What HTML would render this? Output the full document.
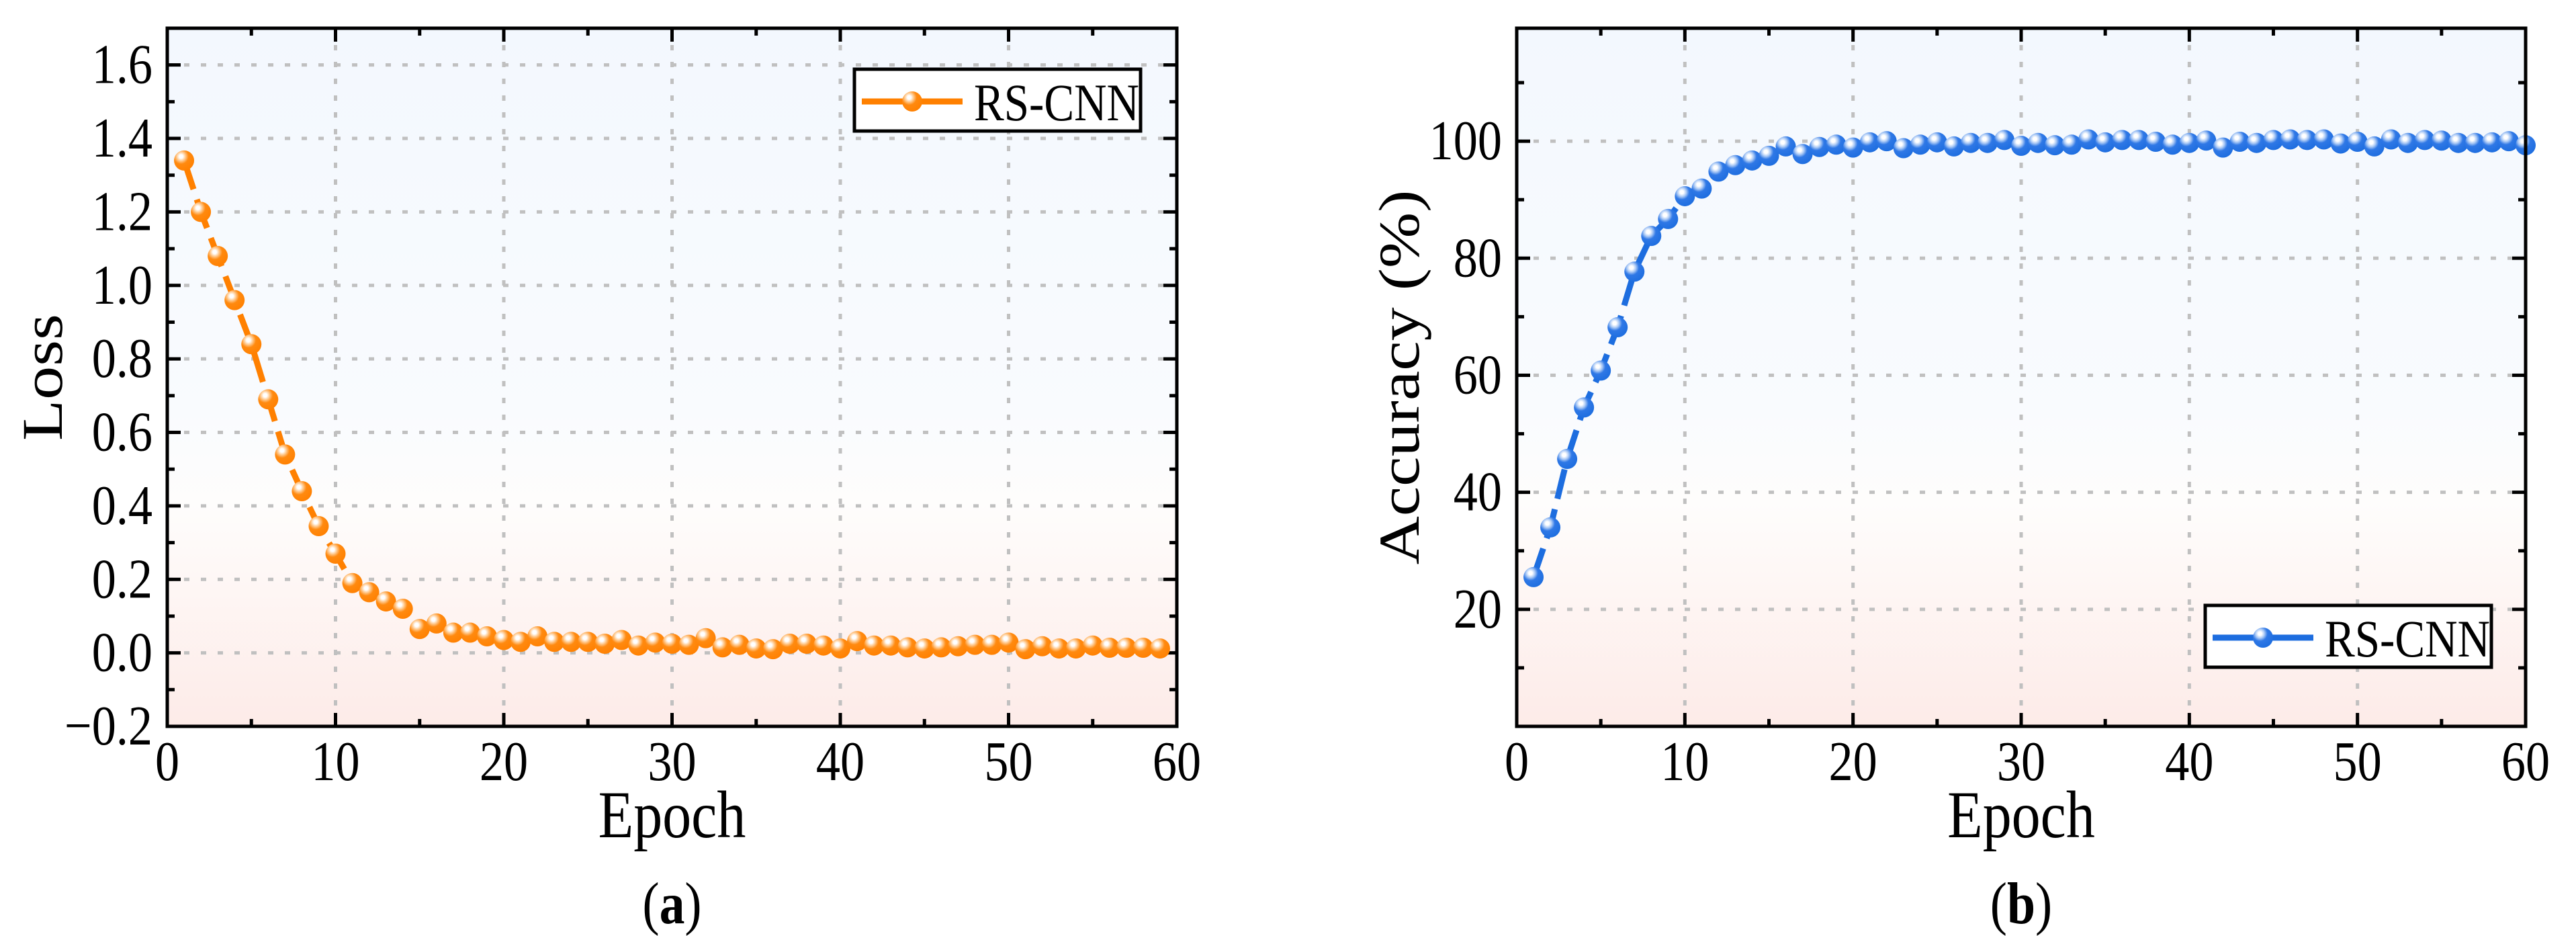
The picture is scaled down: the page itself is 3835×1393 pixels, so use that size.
<!DOCTYPE html>
<html><head><meta charset="utf-8">
<style>
html,body{margin:0;padding:0;background:#fff;}
svg{display:block;font-family:"Liberation Serif",serif;}
</style></head>
<body>
<svg id="fig" width="3835" height="1393" viewBox="0 0 3835 1393" xmlns="http://www.w3.org/2000/svg">
<defs>
<linearGradient id="bg" x1="0" y1="0" x2="0" y2="1">
<stop offset="0" stop-color="#f3f8fe"/>
<stop offset="0.55" stop-color="#f9fbfe"/>
<stop offset="0.68" stop-color="#fefdfc"/>
<stop offset="1" stop-color="#fdebe8"/>
</linearGradient>
<radialGradient id="mo" cx="0.35" cy="0.3" r="0.75">
<stop offset="0" stop-color="#ffffff"/>
<stop offset="0.12" stop-color="#ffffff"/>
<stop offset="0.3" stop-color="#ffc78a"/>
<stop offset="0.5" stop-color="#ff8a10"/>
<stop offset="1" stop-color="#ff8000"/>
</radialGradient>
<radialGradient id="mb" cx="0.35" cy="0.3" r="0.75">
<stop offset="0" stop-color="#ffffff"/>
<stop offset="0.12" stop-color="#ffffff"/>
<stop offset="0.3" stop-color="#a9c8f5"/>
<stop offset="0.5" stop-color="#2f78e6"/>
<stop offset="1" stop-color="#1d6ddf"/>
</radialGradient>
</defs>
<g id="chartA"></g>
<g id="chartB"></g>
</svg>
<script>
const lossEpochs = [];
for (let i = 1; i <= 59; i++) lossEpochs.push(i);
const lossValues = [1.34,1.20,1.08,0.96,0.84,0.69,0.54,0.44,0.345,0.27,0.19,0.165,0.14,0.12,0.065,0.08,0.055,0.055,0.045,0.035,0.03,0.045,0.03,0.03,0.03,0.025,0.035,0.02,0.028,0.025,0.022,0.04,0.015,0.022,0.012,0.01,0.025,0.025,0.02,0.012,0.032,0.02,0.02,0.015,0.012,0.015,0.018,0.022,0.022,0.028,0.01,0.018,0.012,0.012,0.02,0.014,0.014,0.014,0.012];
const lossYTicks = [-0.2,0.0,0.2,0.4,0.6,0.8,1.0,1.2,1.4,1.6];
const lossYLabels = ["\u22120.2","0.0","0.2","0.4","0.6","0.8","1.0","1.2","1.4","1.6"];
const accEpochs = [];
for (let i = 1; i <= 60; i++) accEpochs.push(i);
const accValues = [25.5,34,45.7,54.5,60.8,68.2,77.7,83.8,86.7,90.6,91.9,94.8,95.9,96.7,97.5,99.1,97.8,99.0,99.4,98.9,99.8,100,98.8,99.4,99.8,99.1,99.7,99.7,100.2,99.2,99.7,99.3,99.4,100.3,99.8,100.2,100.2,99.9,99.4,99.7,100.1,98.9,99.9,99.7,100.2,100.3,100.2,100.3,99.6,99.9,99.1,100.3,99.7,100.2,100.1,99.7,99.7,99.8,100,99.3];
const accYTicks = [20,40,60,80,100];
const xTicks = [0,10,20,30,40,50,60];

const NS = "http://www.w3.org/2000/svg";
const SX = 0.86;
function mk(parent, tag, attrs, text) {
  const e = document.createElementNS(NS, tag);
  for (const k in attrs) e.setAttribute(k, attrs[k]);
  if (text !== undefined) e.textContent = text;
  parent.appendChild(e);
  return e;
}
function txt(parent, x, y, size, anchor, s, extra) {
  const a = {x:0,y:0,'font-size':size,'text-anchor':anchor,fill:'#000',transform:'translate('+x+','+y+') '+(extra||'')+' scale('+SX+',1)'};
  return mk(parent,'text',a,s);
}

function drawChart(g, o) {
  const L=o.L, R=o.R, T=42, B=1081;
  const xs = v => L + (v - 0) / 60 * (R - L);
  const ys = v => B - (v - o.ymin) / (o.ymax - o.ymin) * (B - T);
  const bg = mk(g,'rect',{x:L,y:T,width:R-L,height:B-T,fill:'url(#bg)'});
  
  
  for (const t of xTicks.slice(1,-1)) {
    const l = mk(g,'line',{x1:xs(t),x2:xs(t),y1:T,y2:B,stroke:'#c0c0c0','stroke-width':5,'stroke-dasharray':'8 17'});
    
    
  }
  for (const t of o.yTicks) {
    const l = mk(g,'line',{x1:L,x2:R,y1:ys(t),y2:ys(t),stroke:'#c0c0c0','stroke-width':5,'stroke-dasharray':'8 17'});
    
    
  }
  const tk = mk(g,'g',{stroke:'#000','stroke-width':5});
  
  
  for (let v = 0; v <= 60; v += 5) {
    const len = v % 10 === 0 ? 20 : 11;
    mk(tk,'line',{x1:xs(v),x2:xs(v),y1:B,y2:B-len});
    mk(tk,'line',{x1:xs(v),x2:xs(v),y1:T,y2:T+len});
  }
  for (const v of o.minor) {
    const isMajor = o.yTicks.some(t => Math.abs(t - v) < 1e-6);
    const len = isMajor ? 20 : 11;
    mk(tk,'line',{x1:L,x2:L+len,y1:ys(v),y2:ys(v)});
    mk(tk,'line',{x1:R,x2:R-len,y1:ys(v),y2:ys(v)});
  }
  for (const t of xTicks) {
    const tx = txt(g, xs(t), 1161, 84, 'middle', String(t));
    
    
  }
  o.yTicks.forEach((t,i) => {
    const tx = txt(g, L-22, ys(t)+27, 84, 'end', o.yLabels[i]);
    
    
  });
  let d = '';
  o.xv.forEach((x,i) => { d += (i ? 'L' : 'M') + xs(x).toFixed(1) + ',' + ys(o.yv[i]).toFixed(1); });
  const clipId = 'clip' + o.id;
  const cp = mk(g,'clipPath',{id:clipId});
  mk(cp,'rect',{x:L,y:T,width:R-L+20,height:B-T});
  const sg = mk(g,'g',{'clip-path':'url(#'+clipId+')'});
  
  
  const p = mk(sg,'path',{d:d,fill:'none',stroke:o.color,'stroke-width':9,'stroke-dasharray':'45 16'});
  
  
  o.xv.forEach((x,i) => {
    const c = mk(sg,'circle',{cx:xs(x),cy:ys(o.yv[i]),r:15,fill:o.grad});
    
    
  });
  const fr = mk(g,'rect',{x:L,y:T,width:R-L,height:B-T,fill:'none',stroke:'#000','stroke-width':5});
  
  
  const lg = mk(g,'g',{});
  
  
  mk(lg,'rect',{x:o.lx,y:o.ly,width:426,height:92,fill:'#fff',stroke:'#000','stroke-width':5});
  mk(lg,'line',{x1:o.lx+11,x2:o.lx+161,y1:o.ly+48,y2:o.ly+48,stroke:o.color,'stroke-width':9});
  mk(lg,'circle',{cx:o.lx+86,cy:o.ly+48,r:15,fill:o.grad});
  const lt = txt(lg, o.lx+178, o.ly+76, 78, 'start', 'RS-CNN');
  
  
  const xt = txt(g, (L+R)/2, 1246, 100, 'middle', 'Epoch');
  
  
  const yt = mk(g,'text',{x:0,y:0,'font-size':100,'text-anchor':'middle',fill:'#000',transform:'translate('+(o.ytx)+','+((T+B)/2)+') rotate(-90) scale(1,'+SX+')'},o.ytitle);
  
  
  const cap = mk(g,'text',{x:0,y:0,'font-size':88,'text-anchor':'middle',fill:'#000',transform:'translate('+((L+R)/2)+',1374) scale('+SX+',1)'});
  
  
  mk(cap,'tspan',{},'(');
  mk(cap,'tspan',{'font-weight':'bold'},o.cap);
  mk(cap,'tspan',{},')');
}

const minorA = []; for (let i = -2; i <= 17; i++) minorA.push(i/10);
drawChart(document.getElementById('chartA'), {id:'A',L:249,R:1752,ymin:-0.2,ymax:1.7,yTicks:lossYTicks,yLabels:lossYLabels,minor:minorA,xv:lossEpochs,yv:lossValues,color:'#ff8000',grad:'url(#mo)',lx:1272,ly:103,ytx:92,ytitle:'Loss',cap:'a'});
const minorB = []; for (let i = 10; i <= 110; i += 10) minorB.push(i);
drawChart(document.getElementById('chartB'), {id:'B',L:2258,R:3760,ymin:0,ymax:119.3,yTicks:accYTicks,yLabels:accYTicks.map(String),minor:minorB,xv:accEpochs,yv:accValues,color:'#1d6ddf',grad:'url(#mb)',lx:3283,ly:901,ytx:2112,ytitle:'Accuracy (%)',cap:'b'});
</script>
</body></html>
